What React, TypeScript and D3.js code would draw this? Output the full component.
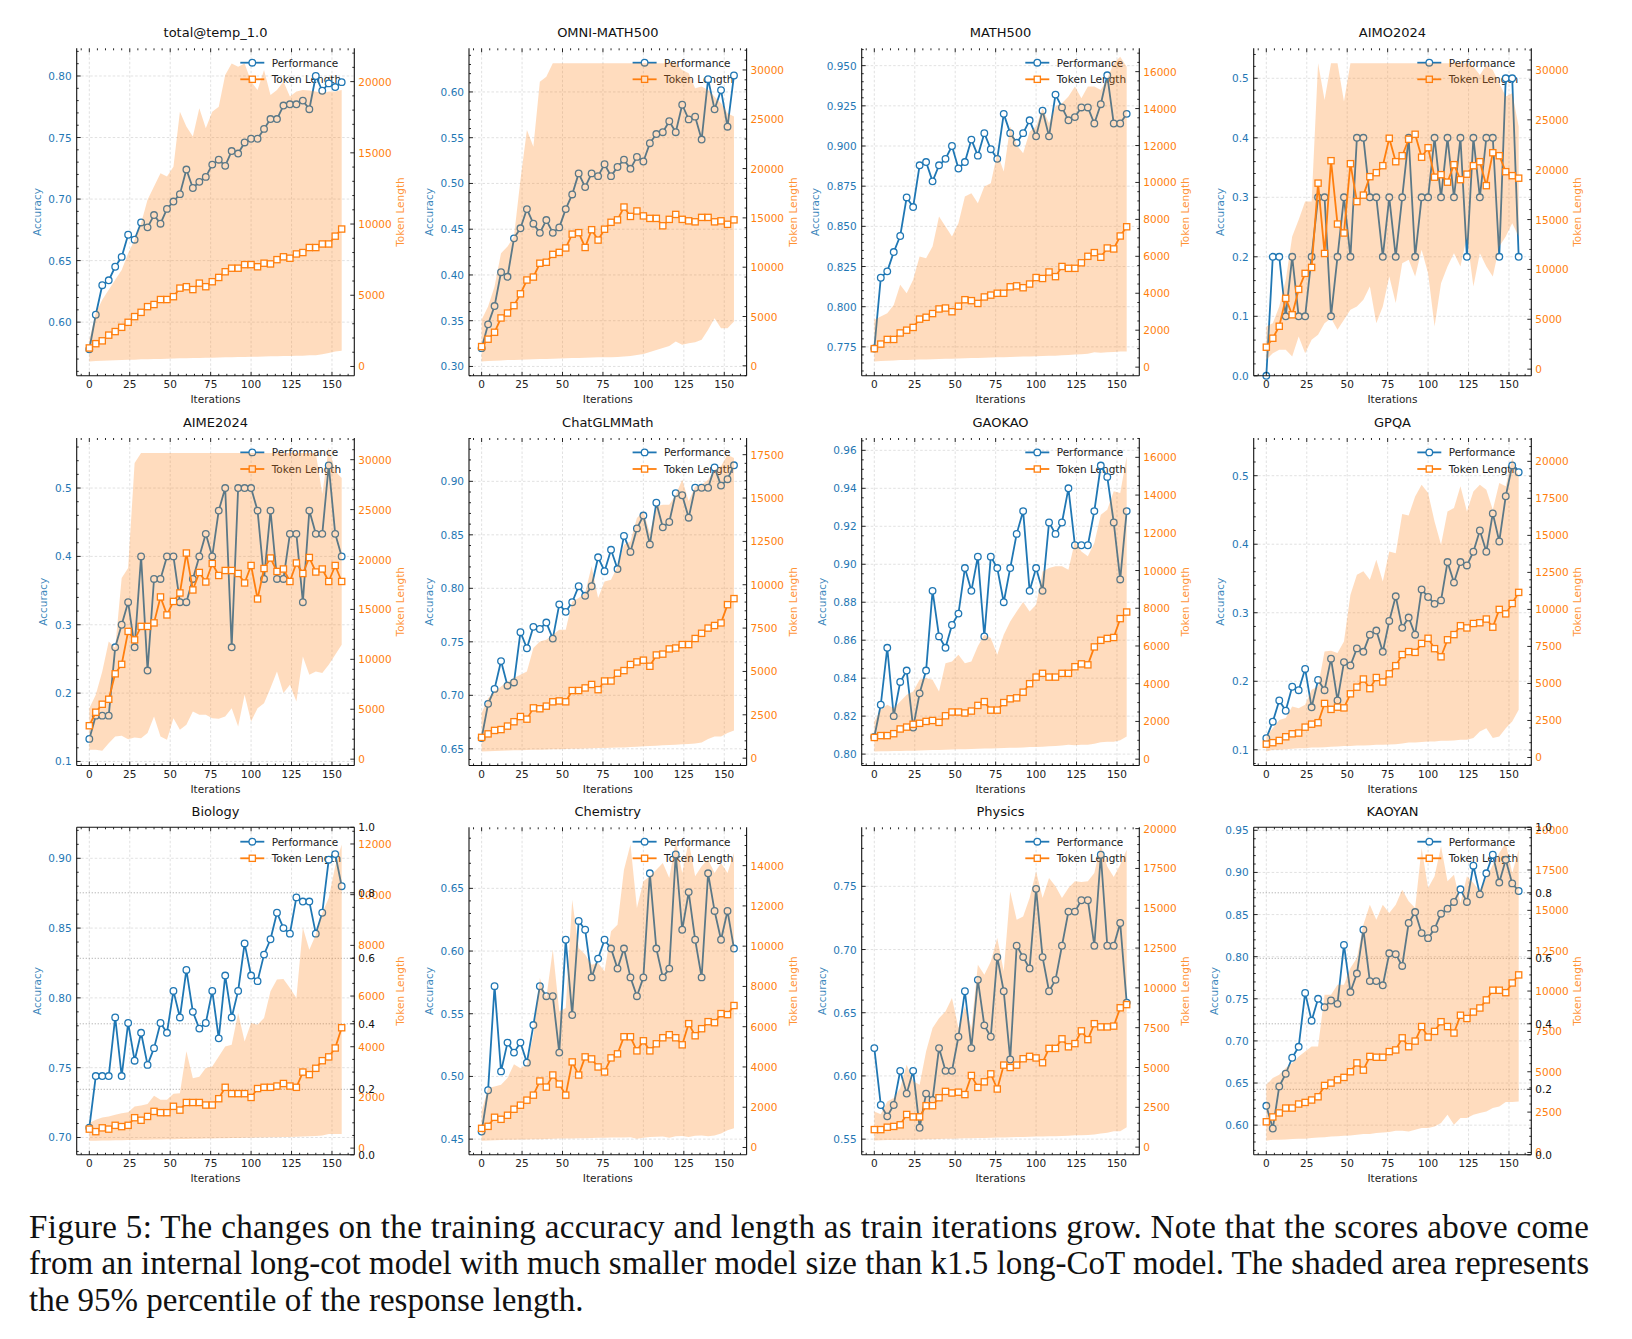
import React from "react";
import * as d3 from "d3";

// ---------------- DATA ----------------
const ITERATIONS = [0, 4, 8, 12, 16, 20, 24, 28, 32, 36, 40, 44, 48, 52, 56, 60, 64, 68, 72, 76, 80, 84, 88, 92, 96, 100, 104, 108, 112, 116, 120, 124, 128, 132, 136, 140, 144, 148, 152, 156];
const X_TICKS = [0, 25, 50, 75, 100, 125, 150];
const EXTRA_TICKS = [0, 0.2, 0.4, 0.6, 0.8, 1.0];

// total@temp_1.0
const totalPerf = [0.578, 0.606, 0.630, 0.634, 0.645, 0.653, 0.671, 0.667, 0.681, 0.677, 0.687, 0.680, 0.692, 0.698, 0.704, 0.724, 0.709, 0.714, 0.718, 0.728, 0.732, 0.727, 0.739, 0.737, 0.746, 0.749, 0.749, 0.757, 0.765, 0.765, 0.776, 0.777, 0.777, 0.780, 0.773, 0.800, 0.788, 0.794, 0.791, 0.795];
const totalTok = [1300, 1600, 1800, 2200, 2450, 2750, 3100, 3500, 3800, 4200, 4350, 4700, 4700, 4900, 5500, 5600, 5400, 5850, 5600, 5950, 6250, 6650, 6900, 6900, 7150, 7150, 7000, 7250, 7200, 7500, 7700, 7600, 7900, 8000, 8350, 8350, 8600, 8600, 9150, 9650];
const totalUp = [1870, 3740, 4680, 5380, 6080, 6780, 7950, 8890, 10060, 11700, 12630, 13570, 13330, 14030, 17890, 16840, 16140, 18130, 16720, 17890, 18240, 20470, 21280, 21050, 21280, 20000, 19410, 20820, 19060, 19410, 20000, 18950, 19300, 19410, 19370, 19300, 19180, 19300, 19300, 19410];
const totalLo = [350, 380, 400, 420, 430, 450, 470, 480, 500, 510, 520, 530, 540, 560, 570, 580, 590, 600, 610, 620, 630, 640, 650, 660, 670, 680, 690, 700, 710, 720, 730, 740, 750, 760, 780, 790, 850, 950, 1050, 1100];

// OMNI-MATH500
const omniPerf = [0.320, 0.346, 0.366, 0.403, 0.398, 0.440, 0.451, 0.472, 0.456, 0.446, 0.460, 0.446, 0.452, 0.472, 0.488, 0.511, 0.496, 0.511, 0.508, 0.521, 0.508, 0.518, 0.526, 0.516, 0.529, 0.524, 0.544, 0.554, 0.556, 0.568, 0.556, 0.586, 0.570, 0.573, 0.548, 0.614, 0.581, 0.602, 0.562, 0.618];
const omniTok = [1950, 2700, 3400, 4850, 5350, 6100, 7300, 8700, 9000, 10400, 10500, 11300, 11500, 11950, 13350, 13500, 12000, 13800, 12750, 13850, 14550, 14800, 16100, 15150, 15700, 15200, 14950, 14950, 14200, 14850, 15350, 14850, 14700, 14600, 15050, 15050, 14600, 14700, 14350, 14800];
const omniUp = [4660, 6010, 8040, 11420, 12090, 13100, 18850, 23920, 22220, 28810, 29320, 30670, 30670, 30670, 30670, 30670, 30670, 30670, 30670, 30670, 30670, 30670, 30670, 30670, 30670, 30670, 30670, 30670, 30670, 30670, 30670, 30000, 29660, 28140, 28310, 27970, 27290, 26620, 25610, 25270];
const omniLo = [440, 500, 520, 550, 580, 600, 620, 640, 660, 680, 700, 720, 740, 760, 780, 800, 820, 840, 860, 880, 880, 900, 950, 1000, 1100, 1200, 1400, 1600, 1800, 2000, 2470, 2130, 2300, 2400, 2630, 3650, 4830, 3820, 3820, 4490];

// MATH500
const mathPerf = [0.774, 0.818, 0.822, 0.834, 0.844, 0.868, 0.862, 0.888, 0.890, 0.878, 0.888, 0.892, 0.900, 0.886, 0.890, 0.904, 0.894, 0.908, 0.898, 0.892, 0.920, 0.908, 0.902, 0.908, 0.916, 0.906, 0.922, 0.906, 0.932, 0.924, 0.916, 0.918, 0.924, 0.924, 0.914, 0.926, 0.944, 0.914, 0.914, 0.920];
const mathTok = [1000, 1250, 1500, 1500, 1850, 2000, 2150, 2600, 2700, 2900, 3150, 3200, 3000, 3300, 3650, 3600, 3450, 3800, 3900, 4000, 4000, 4350, 4400, 4300, 4500, 4850, 4800, 5150, 4900, 5450, 5350, 5350, 5650, 6000, 6200, 5950, 6450, 6400, 7100, 7600];
const mathUp = [2560, 2740, 2920, 3370, 4460, 4000, 4730, 5990, 5900, 6530, 8150, 7610, 7070, 7790, 9240, 9420, 8880, 9780, 9960, 11580, 10590, 13030, 12030, 11580, 12750, 13030, 14020, 13210, 14110, 14290, 14650, 15190, 14560, 15190, 15190, 15010, 15640, 16450, 16810, 16270];
const mathLo = [310, 330, 350, 360, 380, 390, 400, 410, 420, 430, 440, 450, 460, 470, 480, 490, 500, 510, 520, 530, 540, 550, 560, 570, 580, 590, 600, 610, 620, 640, 660, 680, 700, 720, 800, 780, 800, 820, 840, 850];

// AIMO2024
const aimoPerf = [0.0, 0.2, 0.2, 0.1, 0.2, 0.1, 0.1, 0.2, 0.3, 0.3, 0.1, 0.2, 0.3, 0.2, 0.4, 0.4, 0.3, 0.3, 0.2, 0.3, 0.2, 0.3, 0.4, 0.2, 0.3, 0.3, 0.4, 0.3, 0.4, 0.3, 0.4, 0.2, 0.4, 0.3, 0.4, 0.4, 0.2, 0.5, 0.5, 0.2];
const aimoTok = [2200, 3100, 4300, 7100, 5450, 8000, 9600, 10200, 18650, 11600, 20900, 14550, 13650, 20600, 16800, 17450, 19300, 19700, 20400, 23150, 20800, 21400, 23050, 23550, 21250, 22200, 19250, 19500, 18750, 20500, 19000, 19550, 20400, 20800, 18400, 21700, 21400, 19800, 19400, 19150];
const aimoUp = [4280, 4610, 6280, 8950, 13300, 14970, 16800, 16800, 30670, 27000, 30670, 30670, 26830, 30670, 30670, 30670, 30670, 30670, 30670, 30670, 30670, 30670, 30670, 30670, 30670, 30670, 30670, 30670, 30670, 30670, 30670, 30670, 30340, 29500, 30500, 30000, 28670, 27330, 27660, 24320];
const aimoLo = [940, 1600, 1940, 1940, 1270, 3270, 1600, 2940, 3440, 4610, 5110, 3940, 4940, 5950, 6280, 6950, 8290, 4610, 6280, 9290, 6620, 10620, 10960, 9290, 11960, 9620, 4280, 8620, 10290, 11630, 10290, 13300, 8290, 11630, 10290, 9290, 12290, 13300, 14630, 13300];

// AIME2024
const aimePerf = [0.133, 0.167, 0.167, 0.167, 0.267, 0.300, 0.333, 0.267, 0.400, 0.233, 0.367, 0.367, 0.400, 0.400, 0.333, 0.333, 0.367, 0.400, 0.433, 0.400, 0.467, 0.500, 0.267, 0.500, 0.500, 0.500, 0.467, 0.367, 0.467, 0.367, 0.367, 0.433, 0.433, 0.333, 0.467, 0.433, 0.433, 0.533, 0.433, 0.400];
const aimeTok = [3350, 4700, 5500, 6000, 8550, 9500, 12800, 11950, 13300, 13300, 13650, 16250, 14450, 15800, 16650, 20650, 16950, 18700, 17750, 19600, 18400, 18900, 18900, 18600, 17650, 19400, 16050, 19100, 20150, 18800, 19050, 17800, 19650, 18600, 20200, 18750, 19050, 17800, 19400, 17800];
const aimeUp = [5110, 6450, 8790, 11790, 11130, 18140, 19140, 29670, 30670, 30670, 30670, 30670, 30670, 30670, 30670, 30670, 30670, 30670, 30670, 30670, 30670, 30670, 30670, 30670, 30670, 30670, 30670, 30670, 30670, 30670, 30670, 30670, 30670, 30670, 30670, 30670, 26560, 31170, 28830, 28160];
const aimeLo = [940, 940, 840, 1600, 2270, 2340, 2000, 2170, 2100, 2610, 4280, 2270, 1940, 4110, 2940, 3440, 4780, 4440, 4440, 4110, 4040, 4280, 5110, 3270, 6450, 3780, 5110, 5610, 7120, 8790, 6620, 7450, 5780, 10290, 8450, 8790, 8620, 9460, 10460, 11460];

// ChatGLMMath
const glmPerf = [0.660, 0.692, 0.706, 0.732, 0.709, 0.712, 0.759, 0.744, 0.764, 0.762, 0.768, 0.753, 0.785, 0.778, 0.787, 0.802, 0.793, 0.802, 0.829, 0.816, 0.836, 0.818, 0.849, 0.834, 0.856, 0.868, 0.841, 0.880, 0.857, 0.862, 0.889, 0.887, 0.866, 0.894, 0.894, 0.894, 0.913, 0.896, 0.902, 0.915];
const glmTok = [1200, 1400, 1600, 1650, 1850, 2100, 2400, 2250, 2900, 2850, 3000, 3250, 3300, 3250, 3900, 3900, 4050, 4250, 3950, 4450, 4450, 4900, 5050, 5400, 5550, 5650, 5300, 5950, 6000, 6300, 6350, 6550, 6550, 6900, 7200, 7500, 7650, 7800, 8850, 9200];
const glmUp = [2600, 3460, 3850, 4130, 4420, 4620, 4810, 5000, 6350, 6730, 6830, 7120, 7400, 7400, 9040, 9230, 9520, 11060, 9230, 10190, 10290, 11060, 12310, 12500, 13850, 14230, 12980, 14520, 14620, 14620, 15190, 16060, 14810, 15670, 15770, 16060, 16630, 16830, 17500, 17310];
const glmLo = [385, 400, 420, 430, 440, 450, 460, 470, 480, 490, 500, 510, 520, 530, 540, 550, 560, 570, 580, 590, 600, 610, 620, 640, 660, 680, 700, 720, 740, 760, 780, 800, 820, 850, 900, 1100, 1250, 1250, 1450, 1600];

// GAOKAO
const gaokaoPerf = [0.809, 0.826, 0.856, 0.820, 0.838, 0.844, 0.814, 0.832, 0.844, 0.886, 0.862, 0.856, 0.868, 0.874, 0.898, 0.886, 0.904, 0.862, 0.904, 0.898, 0.880, 0.898, 0.916, 0.928, 0.886, 0.898, 0.886, 0.922, 0.916, 0.922, 0.940, 0.910, 0.910, 0.910, 0.928, 0.952, 0.946, 0.922, 0.892, 0.928];
const gaokaoTok = [1150, 1250, 1250, 1350, 1600, 1700, 1850, 1900, 2000, 2050, 1950, 2300, 2500, 2500, 2450, 2550, 2850, 3050, 2600, 2600, 3000, 3200, 3250, 3550, 4000, 4350, 4550, 4350, 4350, 4550, 4550, 4900, 5050, 5000, 5950, 6300, 6400, 6450, 7450, 7800];
const gaokaoUp = [2000, 2620, 2880, 2700, 3060, 3410, 3590, 4210, 4300, 4210, 3590, 5090, 5180, 5530, 5090, 5180, 5980, 6590, 6420, 5530, 6590, 7300, 7830, 8330, 7830, 8190, 9950, 10130, 10220, 10220, 10040, 11550, 11010, 10750, 11460, 12960, 13220, 14200, 14110, 16050];
const gaokaoLo = [410, 420, 420, 430, 430, 440, 450, 460, 470, 480, 490, 500, 510, 520, 530, 540, 550, 560, 570, 580, 590, 600, 610, 620, 640, 650, 660, 680, 700, 720, 760, 740, 760, 760, 820, 900, 920, 920, 1000, 1200];

// GPQA
const gpqaPerf = [0.117, 0.141, 0.172, 0.157, 0.192, 0.187, 0.218, 0.162, 0.202, 0.187, 0.233, 0.172, 0.228, 0.223, 0.248, 0.243, 0.268, 0.274, 0.243, 0.288, 0.324, 0.278, 0.293, 0.268, 0.334, 0.323, 0.313, 0.318, 0.374, 0.344, 0.374, 0.369, 0.389, 0.420, 0.389, 0.445, 0.404, 0.470, 0.515, 0.505];
const gpqaTok = [900, 1000, 1150, 1400, 1600, 1650, 2050, 2250, 2350, 3650, 3250, 3400, 3350, 4300, 4750, 5300, 4650, 5400, 5100, 5650, 6200, 6950, 7150, 7100, 7700, 8050, 7350, 6800, 7950, 8300, 8900, 8750, 9050, 9100, 9350, 8800, 10000, 9700, 10400, 11150];
const gpqaUp = [1420, 1980, 2540, 2660, 3450, 3330, 3560, 4570, 4800, 7160, 7210, 7050, 7840, 10990, 12340, 12570, 12000, 13350, 11890, 13920, 13800, 16440, 16350, 17630, 18420, 17860, 15940, 14370, 16620, 16850, 18310, 16620, 17970, 18420, 18080, 16730, 18530, 18310, 20220, 18980];
const gpqaLo = [405, 520, 520, 560, 590, 630, 630, 680, 680, 700, 720, 740, 770, 770, 810, 810, 830, 860, 860, 880, 900, 950, 1010, 1010, 1040, 1080, 1080, 1130, 1130, 1150, 1190, 1190, 1310, 1760, 1980, 1310, 1420, 1980, 2430, 3220];

// Biology
const bioPerf = [0.707, 0.744, 0.744, 0.744, 0.786, 0.744, 0.782, 0.755, 0.775, 0.752, 0.764, 0.782, 0.775, 0.805, 0.786, 0.820, 0.790, 0.778, 0.782, 0.805, 0.771, 0.816, 0.786, 0.805, 0.839, 0.816, 0.812, 0.831, 0.842, 0.861, 0.850, 0.846, 0.872, 0.869, 0.869, 0.846, 0.861, 0.899, 0.903, 0.880];
const bioTok = [750, 650, 800, 750, 900, 850, 900, 1200, 1100, 1250, 1450, 1400, 1400, 1650, 1500, 1800, 1800, 1800, 1700, 1700, 1950, 2400, 2150, 2150, 2150, 2000, 2350, 2400, 2400, 2450, 2550, 2450, 2400, 3000, 2900, 3150, 3450, 3600, 3950, 4750];
const bioUp = [990, 1120, 1210, 1250, 1320, 1380, 1420, 1640, 1680, 1740, 2070, 1910, 1910, 2150, 2170, 3820, 2760, 2820, 3160, 3220, 3620, 4010, 4080, 5330, 4210, 4940, 4870, 5130, 6190, 6650, 6670, 6320, 5920, 8690, 7830, 8420, 9280, 9870, 11120, 11980];
const bioLo = [290, 290, 300, 300, 310, 310, 320, 320, 330, 330, 340, 340, 350, 350, 360, 360, 370, 370, 380, 380, 390, 390, 400, 400, 410, 410, 420, 420, 430, 430, 440, 440, 450, 460, 470, 480, 500, 560, 560, 560];

// Chemistry
const chemPerf = [0.456, 0.489, 0.572, 0.504, 0.527, 0.519, 0.527, 0.511, 0.541, 0.572, 0.564, 0.564, 0.519, 0.609, 0.549, 0.624, 0.617, 0.579, 0.594, 0.609, 0.602, 0.586, 0.602, 0.579, 0.564, 0.579, 0.662, 0.602, 0.579, 0.586, 0.677, 0.617, 0.647, 0.609, 0.579, 0.662, 0.632, 0.609, 0.632, 0.602];
const chemTok = [950, 1050, 1500, 1400, 1600, 1900, 2100, 2350, 2600, 3300, 3000, 3600, 3150, 2600, 4250, 3600, 4500, 4400, 4000, 3750, 4450, 4650, 5500, 5500, 4800, 5300, 4800, 5150, 5450, 5600, 5450, 5100, 6150, 5550, 5900, 6250, 6200, 6650, 6600, 7050];
const chemUp = [1790, 2950, 3030, 3120, 3450, 4140, 3940, 4110, 5600, 8420, 7420, 9830, 6760, 6930, 12310, 9910, 9580, 9080, 9160, 8750, 10740, 11070, 13800, 15050, 11900, 13220, 13470, 13800, 14130, 13390, 15210, 13640, 15210, 13470, 13970, 14300, 13640, 14130, 13640, 14630];
const chemLo = [330, 350, 360, 370, 380, 380, 390, 400, 410, 410, 420, 430, 440, 440, 450, 460, 460, 470, 480, 480, 490, 500, 500, 510, 430, 480, 520, 530, 540, 480, 560, 570, 520, 580, 590, 560, 600, 700, 850, 960];

// Physics
const physPerf = [0.622, 0.577, 0.568, 0.577, 0.604, 0.586, 0.604, 0.559, 0.586, 0.581, 0.622, 0.604, 0.604, 0.631, 0.667, 0.622, 0.676, 0.640, 0.631, 0.694, 0.667, 0.613, 0.703, 0.694, 0.685, 0.748, 0.694, 0.667, 0.676, 0.703, 0.730, 0.730, 0.739, 0.739, 0.703, 0.775, 0.703, 0.703, 0.721, 0.658];
const physTok = [1100, 1100, 1250, 1300, 1400, 2050, 1900, 1900, 2600, 2600, 3100, 3500, 3400, 3450, 3300, 4500, 3750, 4100, 4600, 3650, 5150, 5000, 5150, 5550, 5700, 5600, 5300, 6200, 6200, 6800, 6300, 6500, 7300, 6750, 7750, 7550, 7550, 7600, 8750, 8950];
const physUp = [2240, 2070, 2870, 3080, 3710, 5170, 4130, 3920, 6010, 7480, 8100, 8520, 9360, 7480, 8840, 7480, 11460, 10830, 11660, 13130, 11040, 16060, 14280, 14490, 15640, 17320, 15640, 16900, 16380, 15640, 16270, 16690, 16650, 16690, 17210, 18990, 17630, 16960, 17740, 18680];
const physLo = [420, 430, 440, 440, 450, 460, 470, 480, 490, 500, 510, 520, 530, 540, 550, 560, 570, 580, 590, 600, 610, 620, 630, 640, 650, 660, 670, 680, 690, 700, 720, 740, 750, 760, 800, 850, 900, 1000, 1000, 1250];

// KAOYAN
const kaoPerf = [0.623, 0.596, 0.646, 0.661, 0.680, 0.693, 0.757, 0.724, 0.750, 0.740, 0.748, 0.744, 0.814, 0.758, 0.780, 0.832, 0.771, 0.771, 0.766, 0.804, 0.803, 0.789, 0.840, 0.853, 0.828, 0.822, 0.833, 0.851, 0.857, 0.865, 0.880, 0.865, 0.908, 0.874, 0.899, 0.921, 0.888, 0.915, 0.887, 0.878];
const kaoTok = [1900, 2200, 2450, 2750, 2750, 3000, 3100, 3250, 3450, 4150, 4300, 4500, 4650, 5000, 5550, 5100, 5950, 5900, 5900, 6250, 6350, 7100, 6550, 6900, 7800, 7150, 7500, 8100, 7800, 7400, 8500, 8300, 8700, 8950, 9450, 10050, 10050, 9900, 10500, 11000];
const kaoUp = [4190, 4610, 4810, 5230, 5540, 5950, 6260, 6570, 6570, 9770, 9770, 10390, 10390, 11430, 12050, 14110, 15350, 14420, 15350, 14830, 15350, 16280, 15560, 15140, 18860, 16380, 17110, 18970, 16800, 17210, 15450, 17110, 16690, 16180, 17000, 17830, 18550, 19170, 17310, 18760];
const kaoLo = [720, 790, 790, 810, 830, 850, 850, 890, 930, 950, 990, 1010, 1030, 1050, 1090, 1140, 1140, 1200, 1240, 1260, 1340, 1340, 1300, 1400, 1510, 1510, 1610, 1820, 2330, 1710, 2130, 2130, 2330, 2440, 2540, 2750, 2850, 3120, 3120, 3160];

// tick label sets
const T_060_080 = [0.60, 0.65, 0.70, 0.75, 0.80];
const T_030_060 = [0.30, 0.35, 0.40, 0.45, 0.50, 0.55, 0.60];
const T_0775_095 = [0.775, 0.800, 0.825, 0.850, 0.875, 0.900, 0.925, 0.950];
const T_00_05 = [0.0, 0.1, 0.2, 0.3, 0.4, 0.5];
const T_01_05 = [0.1, 0.2, 0.3, 0.4, 0.5];
const T_065_090 = [0.65, 0.70, 0.75, 0.80, 0.85, 0.90];
const T_080_096 = [0.80, 0.82, 0.84, 0.86, 0.88, 0.90, 0.92, 0.94, 0.96];
const T_070_090 = [0.70, 0.75, 0.80, 0.85, 0.90];
const T_045_065 = [0.45, 0.50, 0.55, 0.60, 0.65];
const T_055_075 = [0.55, 0.60, 0.65, 0.70, 0.75];
const T_060_095 = [0.60, 0.65, 0.70, 0.75, 0.80, 0.85, 0.90, 0.95];
const R_20000_5k = [0, 5000, 10000, 15000, 20000];
const R_30000_5k = [0, 5000, 10000, 15000, 20000, 25000, 30000];
const R_16000_2k = [0, 2000, 4000, 6000, 8000, 10000, 12000, 14000, 16000];
const R_17500 = [0, 2500, 5000, 7500, 10000, 12500, 15000, 17500];
const R_20000_2500 = [0, 2500, 5000, 7500, 10000, 12500, 15000, 17500, 20000];
const R_12000_2k = [0, 2000, 4000, 6000, 8000, 10000, 12000];
const R_14000_2k = [0, 2000, 4000, 6000, 8000, 10000, 12000, 14000];

const TITLES = ["total@temp_1.0", "OMNI-MATH500", "MATH500", "AIMO2024", "AIME2024", "ChatGLMMath", "GAOKAO", "GPQA", "Biology", "Chemistry", "Physics", "KAOYAN"];

type PanelCfg = {
  title: string;
  perf: number[]; tok: number[]; up: number[]; lo: number[];
  yL: [number, number]; yR: [number, number];
  ticksL: number[]; decL: number; minorL: number;
  ticksR: number[]; minorR: number;
  extra?: boolean;
};

const PANELS: PanelCfg[] = [
  { title: TITLES[0], perf: totalPerf, tok: totalTok, up: totalUp, lo: totalLo, yL: [0.5564, 0.8225], yR: [-655, 22339], ticksL: T_060_080, decL: 2, minorL: 0.01, ticksR: R_20000_5k, minorR: 1000 },
  { title: TITLES[1], perf: omniPerf, tok: omniTok, up: omniUp, lo: omniLo, yL: [0.2898, 0.6477], yR: [-1013, 32196], ticksL: T_030_060, decL: 2, minorL: 0.01, ticksR: R_30000_5k, minorR: 1000 },
  { title: TITLES[2], perf: mathPerf, tok: mathTok, up: mathUp, lo: mathLo, yL: [0.757, 0.9608], yR: [-469, 17263], ticksL: T_0775_095, decL: 3, minorL: 0.005, ticksR: R_16000_2k, minorR: 500 },
  { title: TITLES[3], perf: aimoPerf, tok: aimoTok, up: aimoUp, lo: aimoLo, yL: [0, 0.5504], yR: [-668, 32172], ticksL: T_00_05, decL: 1, minorL: 0.02, ticksR: R_30000_5k, minorR: 1000 },
  { title: TITLES[4], perf: aimePerf, tok: aimeTok, up: aimeUp, lo: aimeLo, yL: [0.0941, 0.5732], yR: [-635, 32172], ticksL: T_01_05, decL: 1, minorL: 0.02, ticksR: R_30000_5k, minorR: 1000 },
  { title: TITLES[5], perf: glmPerf, tok: glmTok, up: glmUp, lo: glmLo, yL: [0.6344, 0.9405], yR: [-423, 18462], ticksL: T_065_090, decL: 2, minorL: 0.01, ticksR: R_17500, minorR: 500 },
  { title: TITLES[6], perf: gaokaoPerf, tok: gaokaoTok, up: gaokaoUp, lo: gaokaoLo, yL: [0.794, 0.9665], yR: [-336, 17025], ticksL: T_080_096, decL: 2, minorL: 0.005, ticksR: R_16000_2k, minorR: 500 },
  { title: TITLES[7], perf: gpqaPerf, tok: gpqaTok, up: gpqaUp, lo: gpqaLo, yL: [0.0771, 0.555], yR: [-541, 21577], ticksL: T_01_05, decL: 1, minorL: 0.02, ticksR: R_20000_2500, minorR: 500 },
  { title: TITLES[8], perf: bioPerf, tok: bioTok, up: bioUp, lo: bioLo, yL: [0.6876, 0.9222], yR: [-263, 12658], ticksL: T_070_090, decL: 2, minorL: 0.01, ticksR: R_12000_2k, minorR: 500, extra: true },
  { title: TITLES[9], perf: chemPerf, tok: chemTok, up: chemUp, lo: chemLo, yL: [0.4375, 0.6987], yR: [-364, 15905], ticksL: T_045_065, decL: 2, minorL: 0.01, ticksR: R_14000_2k, minorR: 500 },
  { title: TITLES[10], perf: physPerf, tok: physTok, up: physUp, lo: physLo, yL: [0.5376, 0.7967], yR: [-482, 20084], ticksL: T_055_075, decL: 2, minorL: 0.01, ticksR: R_20000_2500, minorR: 500 },
  { title: TITLES[11], perf: kaoPerf, tok: kaoTok, up: kaoUp, lo: kaoLo, yL: [0.5648, 0.9536], yR: [-145, 20145], ticksL: T_060_095, decL: 2, minorL: 0.01, ticksR: R_20000_2500, minorR: 500, extra: true },
];

const CAPTION = [
  "Figure 5: The changes on the training accuracy and length as train iterations grow. Note that the scores above come",
  "from an internal long-cot model with much smaller model size than k1.5 long-CoT model. The shaded area represents",
  "the 95% percentile of the response length.",
];

// ---------------- LAYOUT ----------------
const COL_X = [76.7, 469, 861.7, 1253.7];
const ROW_Y = [48.3, 438, 827.3];
const W = 277.6;
const H = 327.5;
const X_DOMAIN: [number, number] = [-7.8, 163.8];
const BLUE = "#1f77b4";
const ORANGE = "#ff7f0e";
const FONT = "DejaVu Sans, Verdana, sans-serif";
const FS = 10.5;

function textW(s: string) {
  let w = 0;
  for (const c of s) w += c === "." ? 0.318 : 0.636;
  return w * FS;
}

function minorTicks(lo: number, hi: number, step: number, majors: number[]) {
  const out: number[] = [];
  const s = Math.ceil(lo / step - 1e-9);
  const e = Math.floor(hi / step + 1e-9);
  for (let i = s; i <= e; i++) {
    const v = i * step;
    if (!majors.some((m) => Math.abs(m - v) < step * 1e-3)) out.push(v);
  }
  return out;
}

function Panel({ cfg, left, top }: { cfg: PanelCfg; left: number; top: number }) {
  const right = left + W;
  const bottom = top + H;
  const x = d3.scaleLinear().domain(X_DOMAIN).range([left, right]);
  const yL = d3.scaleLinear().domain(cfg.yL).range([bottom, top]);
  const yR = d3.scaleLinear().domain(cfg.yR).range([bottom, top]);
  const yE = d3.scaleLinear().domain([0, 1]).range([bottom, top]);

  const perfPath = d3.line<number>().x((_, i) => x(ITERATIONS[i])).y((d) => yL(d))(cfg.perf) || "";
  const tokPath = d3.line<number>().x((_, i) => x(ITERATIONS[i])).y((d) => yR(d))(cfg.tok) || "";
  const bandPath =
    d3.area<number>().x((_, i) => x(ITERATIONS[i])).y0((_, i) => yR(cfg.lo[i])).y1((d) => yR(d))(cfg.up) || "";

  const xMinor = minorTicks(X_DOMAIN[0], X_DOMAIN[1], 5, X_TICKS);
  const lMinor = minorTicks(cfg.yL[0], cfg.yL[1], cfg.minorL, cfg.ticksL);
  const rMinor = minorTicks(cfg.yR[0], cfg.yR[1], cfg.minorR, cfg.ticksR);

  const lLabels = cfg.ticksL.map((t) => t.toFixed(cfg.decL));
  const rLabels = cfg.ticksR.map((t) => String(t));
  const lMaxW = Math.max(...lLabels.map(textW));
  const rMaxW = Math.max(...rLabels.map(textW));
  const accX = left - 5 - lMaxW - 7.8;
  const tokX = right + 4 + rMaxW + 12.8;
  const cy = (top + bottom) / 2;

  const MAJ = 4, MIN = 2;
  const legX0 = right - 114, legX1 = right - 90, legM = right - 102, legT = right - 82.6;
  const legY1 = top + 14.4, legY2 = top + 31;

  return (
    <g>
      {/* grid */}
      <g stroke="#d4d4d4" strokeWidth={0.7} strokeDasharray="2.5,2">
        {X_TICKS.map((t) => (
          <line key={"gx" + t} x1={x(t)} x2={x(t)} y1={top} y2={bottom} />
        ))}
        {cfg.ticksL.map((t) => (
          <line key={"gy" + t} x1={left} x2={right} y1={yL(t)} y2={yL(t)} />
        ))}
      </g>
      {cfg.extra && (
        <g stroke="#9a9a9a" strokeWidth={0.8} strokeDasharray="1.2,1.8">
          {EXTRA_TICKS.filter((t) => t > 0 && t < 1).map((t) => (
            <line key={"ge" + t} x1={left} x2={right} y1={yE(t)} y2={yE(t)} />
          ))}
        </g>
      )}

      {/* legend */}
      <g fontFamily={FONT} fontSize={FS} fill="#222">
        <line x1={legX0} x2={legX1} y1={legY1} y2={legY1} stroke={BLUE} strokeWidth={1.8} />
        <circle cx={legM} cy={legY1} r={3.3} fill="white" stroke={BLUE} strokeWidth={1.3} />
        <text x={legT} y={legY1} dominantBaseline="central">Performance</text>
        <line x1={legX0} x2={legX1} y1={legY2} y2={legY2} stroke={ORANGE} strokeWidth={1.8} />
        <rect x={legM - 3.1} y={legY2 - 3.1} width={6.2} height={6.2} fill="white" stroke={ORANGE} strokeWidth={1.3} />
        <text x={legT} y={legY2} dominantBaseline="central">Token Length</text>
      </g>

      {/* performance */}
      <path d={perfPath} fill="none" stroke={BLUE} strokeWidth={1.8} strokeLinejoin="round" />
      {cfg.perf.map((d, i) => (
        <circle key={"pc" + i} cx={x(ITERATIONS[i])} cy={yL(d)} r={3.3} fill="white" stroke={BLUE} strokeWidth={1.3} />
      ))}

      {/* band */}
      <path d={bandPath} fill={ORANGE} fillOpacity={0.27} stroke="none" />

      {/* token length */}
      <path d={tokPath} fill="none" stroke={ORANGE} strokeWidth={1.8} strokeLinejoin="round" />
      {cfg.tok.map((d, i) => (
        <rect key={"tr" + i} x={x(ITERATIONS[i]) - 3.1} y={yR(d) - 3.1} width={6.2} height={6.2} fill="white" stroke={ORANGE} strokeWidth={1.3} />
      ))}

      {/* spines */}
      <g stroke="#111" strokeWidth={1.1} fill="none">
        <line x1={left} x2={left} y1={top} y2={bottom} />
        <line x1={right} x2={right} y1={top} y2={bottom} />
        <line x1={left} x2={right} y1={bottom} y2={bottom} />
        {cfg.extra && <line x1={left} x2={right} y1={top} y2={top} />}
      </g>

      {/* ticks */}
      <g stroke="#111" strokeWidth={0.9}>
        {X_TICKS.map((t) => (
          <g key={"xt" + t}>
            <line x1={x(t)} x2={x(t)} y1={bottom} y2={bottom - MAJ} />
            <line x1={x(t)} x2={x(t)} y1={top} y2={top + MAJ} />
          </g>
        ))}
        {xMinor.map((t) => (
          <g key={"xm" + t}>
            <line x1={x(t)} x2={x(t)} y1={bottom} y2={bottom - MIN} />
            <line x1={x(t)} x2={x(t)} y1={top} y2={top + MIN} />
          </g>
        ))}
        {cfg.ticksL.map((t) => (
          <line key={"lt" + t} x1={left} x2={left + MAJ} y1={yL(t)} y2={yL(t)} />
        ))}
        {lMinor.map((t) => (
          <line key={"lm" + t} x1={left} x2={left + MIN} y1={yL(t)} y2={yL(t)} />
        ))}
        {cfg.ticksR.map((t) => (
          <line key={"rt" + t} x1={right} x2={right - MAJ} y1={yR(t)} y2={yR(t)} />
        ))}
        {rMinor.map((t) => (
          <line key={"rm" + t} x1={right} x2={right - MIN} y1={yR(t)} y2={yR(t)} />
        ))}
        {cfg.extra &&
          EXTRA_TICKS.map((t) => <line key={"et" + t} x1={right} x2={right - MAJ} y1={yE(t)} y2={yE(t)} />)}
      </g>

      {/* tick labels */}
      <g fontFamily={FONT} fontSize={FS}>
        {X_TICKS.map((t) => (
          <text key={"xl" + t} x={x(t)} y={bottom + 12.3} textAnchor="middle" fill="#222">
            {t}
          </text>
        ))}
        {cfg.ticksL.map((t, i) => (
          <text key={"ll" + t} x={left - 5} y={yL(t)} textAnchor="end" dominantBaseline="central" fill={BLUE}>
            {lLabels[i]}
          </text>
        ))}
        {cfg.ticksR.map((t, i) => (
          <text key={"rl" + t} x={right + 4} y={yR(t)} dominantBaseline="central" fill={ORANGE}>
            {rLabels[i]}
          </text>
        ))}
        {cfg.extra &&
          EXTRA_TICKS.map((t) => (
            <text key={"el" + t} x={right + 4} y={yE(t)} dominantBaseline="central" fill="#111">
              {t.toFixed(1)}
            </text>
          ))}
      </g>

      {/* axis labels and title */}
      <g fontFamily={FONT}>
        <text x={(left + right) / 2} y={bottom + 27.3} textAnchor="middle" fontSize={FS} fill="#222">
          Iterations
        </text>
        <text transform={`translate(${accX},${cy}) rotate(-90)`} textAnchor="middle" fontSize={FS} fill={BLUE} fillOpacity={0.9}>
          Accuracy
        </text>
        <text transform={`translate(${tokX},${cy}) rotate(-90)`} textAnchor="middle" fontSize={FS} fill={ORANGE} fillOpacity={0.85}>
          Token Length
        </text>
        <text x={(left + right) / 2} y={top - 11} textAnchor="middle" fontSize={13} fill="#111">
          {cfg.title}
        </text>
      </g>
    </g>
  );
}

export default function App() {
  return (
    <div style={{ position: "absolute", left: 0, top: 0, background: "white" }}>
      <svg width={1632} height={1339} viewBox="0 0 1632 1339" style={{ display: "block" }}>
        <rect x={0} y={0} width={1632} height={1339} fill="white" />
        {PANELS.map((cfg, i) => (
          <Panel key={cfg.title} cfg={cfg} left={COL_X[i % 4]} top={ROW_Y[Math.floor(i / 4)]} />
        ))}
        <g fontFamily="Liberation Serif, Times New Roman, serif" fontSize={33} fill="#111">
          <text x={29} y={1237.5} textLength={1560} lengthAdjust="spacing">
            {CAPTION[0]}
          </text>
          <text x={29} y={1274} textLength={1560} lengthAdjust="spacing">
            {CAPTION[1]}
          </text>
          <text x={29} y={1310.5}>{CAPTION[2]}</text>
        </g>
      </svg>
    </div>
  );
}
